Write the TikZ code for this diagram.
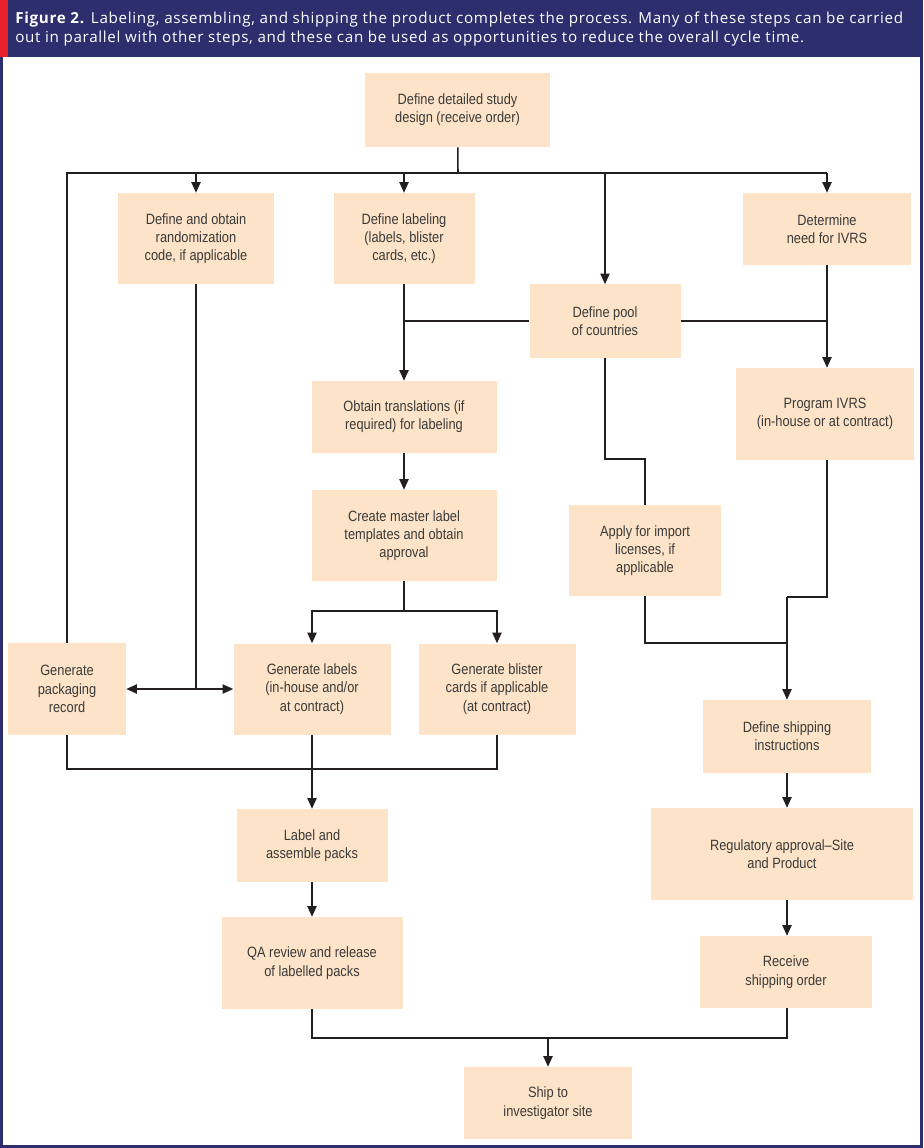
\documentclass[tikz,border=0pt]{standalone}
\usepackage{fontspec}
\setmainfont{Liberation Sans}
\newfontfamily\boxfont[FakeStretch=0.86]{Liberation Sans}
\newfontfamily\headfont[LetterSpace=4.5]{Open Sans}
\usepackage{tikz}
\usetikzlibrary{arrows.meta, calc, positioning}
\definecolor{navy}{HTML}{2C2E6E}
\definecolor{barred}{HTML}{E8202A}
\definecolor{boxfill}{HTML}{FDE3C7}
\definecolor{boxtext}{HTML}{3A3A3A}
\definecolor{linecol}{HTML}{231F20}

\begin{document}
\begin{tikzpicture}[x=0.025cm, y=-0.025cm,
  main/.style = {fill=boxfill, text=boxtext, align=center, inner sep=0pt,
    font=\boxfont\fontsize{10.6}{13}\selectfont},
  line/.style = {draw=linecol, line width=1.1pt},
  arr/.style = {line, -{Triangle[length=7.5pt,width=6.5pt]}}]
% frame and caption band
\fill[navy] (0,0) rectangle (923,1148);
\fill[white] (3,57) rectangle (920,1145);
\fill[barred] (0,0) rectangle (8,57);
\node[anchor=north west, align=left, text=white, inner sep=0pt,
  font=\headfont\fontsize{10.8}{13.4}\selectfont] (cap) at (15,12)
  {\textbf{Figure 2.} Labeling, assembling, and shipping the product completes the process. Many of these steps can be carried\\
   out in parallel with other steps, and these can be used as opportunities to reduce the overall cycle time.};

\node[main, minimum width=185*0.025cm, minimum height=74*0.025cm] (1) at (457.5,110) {Define detailed study\\design (receive order)};
\node[main, minimum width=156*0.025cm, minimum height=91*0.025cm] (2) at (196,238.5) {Define and obtain\\randomization\\code, if applicable};
\node[main, minimum width=141*0.025cm, minimum height=91*0.025cm] (3) at (404,238.5) {Define labeling\\(labels, blister\\cards, etc.)};
\node[main, minimum width=168*0.025cm, minimum height=72*0.025cm] (4) at (827,229) {Determine\\need for IVRS};
\node[main, minimum width=151*0.025cm, minimum height=73*0.025cm] (5) at (605,321) {Define pool\\of countries};
\node[main, minimum width=185*0.025cm, minimum height=72*0.025cm] (6) at (404,417) {Obtain translations (if\\required) for labeling};
\node[main, minimum width=178*0.025cm, minimum height=92*0.025cm] (7) at (825,414) {Program IVRS\\(in-house or at contract)};
\node[main, minimum width=185*0.025cm, minimum height=91*0.025cm] (8) at (404,535.5) {Create master label\\templates and obtain\\approval};
\node[main, minimum width=152*0.025cm, minimum height=91*0.025cm] (9) at (645,550.5) {Apply for import\\licenses, if\\applicable};
\node[main, minimum width=118*0.025cm, minimum height=92*0.025cm] (10) at (67,689) {Generate\\packaging\\record};
\node[main, minimum width=157*0.025cm, minimum height=91*0.025cm] (11) at (312,689) {Generate labels\\(in-house and/or\\at contract)};
\node[main, minimum width=157*0.025cm, minimum height=91*0.025cm] (12) at (497,689) {Generate blister\\cards if applicable\\(at contract)};
\node[main, minimum width=168*0.025cm, minimum height=73*0.025cm] (13) at (787,736.5) {Define shipping\\instructions};
\node[main, minimum width=151*0.025cm, minimum height=73*0.025cm] (14) at (312,845.5) {Label and\\assemble packs};
\node[main, minimum width=262*0.025cm, minimum height=92*0.025cm] (15) at (782,854) {Regulatory approval\textendash Site\\and Product};
\node[main, minimum width=181*0.025cm, minimum height=92*0.025cm] (16) at (312,963) {QA review and release\\of labelled packs};
\node[main, minimum width=172*0.025cm, minimum height=72*0.025cm] (17) at (786,972) {Receive\\shipping order};
\node[main, minimum width=168*0.025cm, minimum height=72*0.025cm] (18) at (548,1103) {Ship to\\investigator site};

% junctions
\coordinate (j1) at (458,173);
\coordinate (tl) at (67,173);
\coordinate (tr) at (827,173);
\coordinate (lc) at (404,321);
\coordinate (rc) at (827,321);
\coordinate (ms) at (404,611);
\coordinate (rj) at (196,689);
\coordinate (pj) at (605,459);
\coordinate (ij) at (787,597);
\coordinate (mj) at (787,643);
\coordinate (bl) at (67,769);
\coordinate (br) at (497,769);
\coordinate (fj) at (548,1038);

\draw[line] (1) -- (j1);
\draw[line] (10) -- (tl) -- (tr);
\draw[arr] (tl -| 2) -- (2);
\draw[arr] (tl -| 3) -- (3);
\draw[arr] (tl -| 5) -- (5);
\draw[arr] (tr) -- (4);
\draw[line] (3) -- (lc);
\draw[line] (lc) -- (5.west);
\draw[line] (5.east) -- (rc);
\draw[arr] (lc) -- (6);
\draw[arr] (4) -- (4 |- 7.north);
\draw[arr] (6) -- (8);
\draw[line] (8) -- (ms);
\draw[arr] (ms) -| (11);
\draw[arr] (ms) -| (12);
\draw[line] (2) -- (rj);
\draw[arr] (rj) -- (10);
\draw[arr] (rj) -- (11);
\draw[line] (5) -- (pj) -| (9);
\draw[line] (7.south -| 4) |- (ij);
\draw[line] (9) |- (mj);
\draw[arr] (ij) -- (13);
\draw[arr] (13) -- (13 |- 15.north);
\draw[arr] (13 |- 15.south) -- (13 |- 17.north);
\draw[line] (10) -- (bl) -- (br) -- (12);
\draw[arr] (11) -- (14);
\draw[arr] (14) -- (16);
\draw[line] (16) |- (fj) -| (13 |- 17.south);
\draw[arr] (fj) -- (18);
\end{tikzpicture}
\end{document}
